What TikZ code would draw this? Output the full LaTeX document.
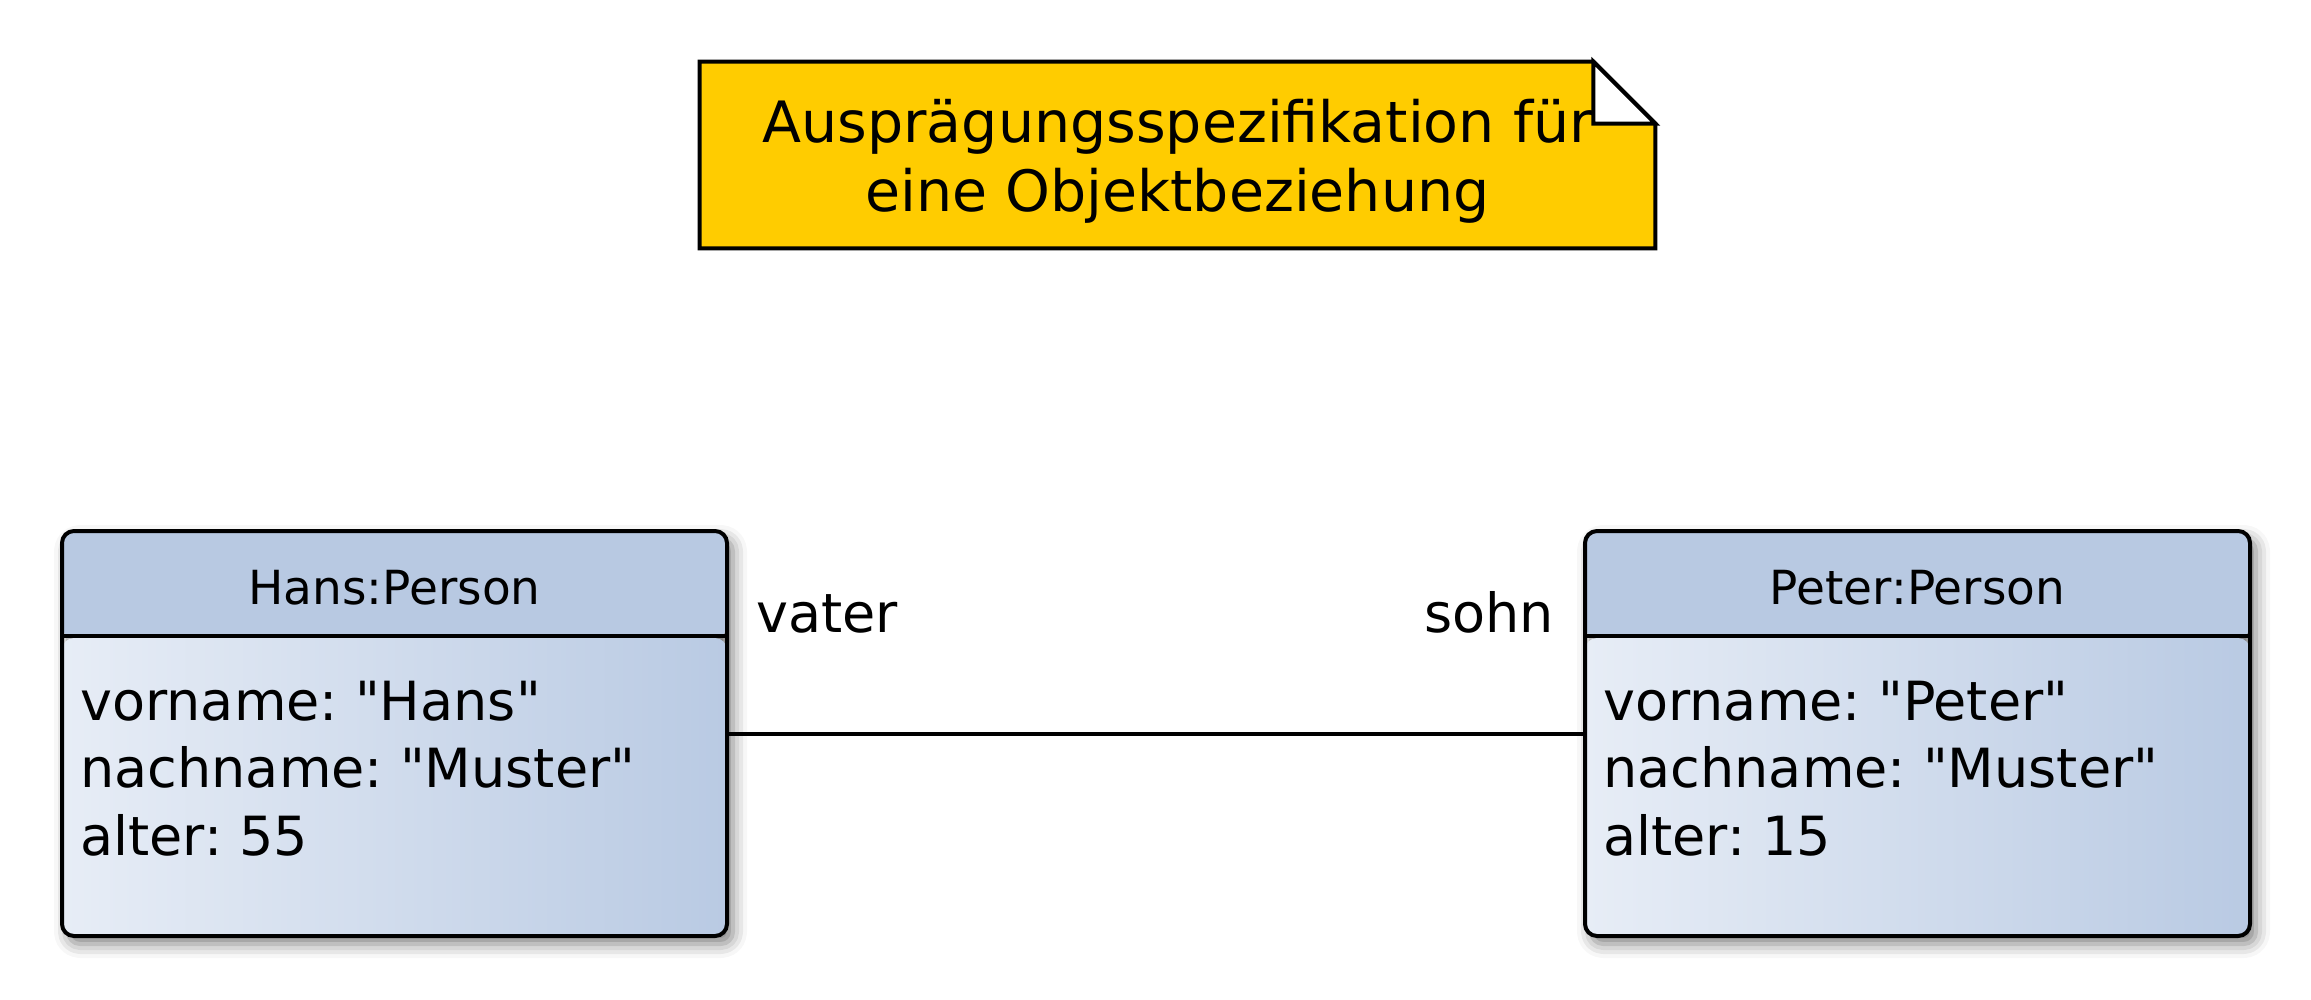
\documentclass[tikz,border=0pt]{standalone}
\usepackage{fontspec}
\newfontfamily\uifont{DejaVu Sans}
\usetikzlibrary{shadows.blur}
\definecolor{hdr}{HTML}{B8C9E2}
\definecolor{bodyL}{HTML}{E7EDF6}
\definecolor{bodyR}{HTML}{B9CAE3}
\definecolor{noteY}{HTML}{FFCC00}
\tikzset{
  objbox/.style={draw=black, line width=2pt, rounded corners=6pt, inner sep=0pt,
    minimum width=332.5pt, minimum height=202.5pt,
    blur shadow={shadow xshift=3pt, shadow yshift=-4pt, shadow blur radius=7pt, shadow opacity=50},
    path picture={
      \fill[hdr] (path picture bounding box.north west) rectangle ([yshift=-53.5pt]path picture bounding box.north east);
      \shade[left color=bodyL, right color=bodyR] ([yshift=-53.5pt]path picture bounding box.north west) rectangle (path picture bounding box.south east);
    }},
  hdrtxt/.style={anchor=base, inner sep=0pt, font=\uifont\frenchspacing\fontsize{23.5}{28}\selectfont},
  attrtxt/.style={anchor=base west, inner sep=0pt, font=\uifont\frenchspacing\fontsize{27}{32}\selectfont},
  roletxt/.style={inner sep=0pt, font=\uifont\frenchspacing\fontsize{27}{32}\selectfont},
  notetxt/.style={anchor=base, inner sep=0pt, font=\uifont\frenchspacing\fontsize{28.5}{34}\selectfont},
  link/.style={draw=black, line width=2pt},
  noteline/.style={draw=black, line width=2pt, line join=miter},
}
\begin{document}
\begin{tikzpicture}[x=0.5pt,y=-0.5pt]
\useasboundingbox (0,0) rectangle (2311,1000);

% note
\node[inner sep=0pt, minimum width=477.5pt, minimum height=93pt] (note) at (1177.5,155) {};
\filldraw[noteline, fill=noteY]
  (note.north west) -- ([xshift=-31pt]note.north east) -- ([yshift=-31pt]note.north east)
  -- (note.south east) -- (note.south west) -- cycle;
\filldraw[noteline, fill=white]
  ([xshift=-31pt]note.north east) -- ([xshift=-31pt,yshift=-31pt]note.north east)
  -- ([yshift=-31pt]note.north east) -- cycle;
\node[notetxt] (n1) at (1177.5,143) {Ausprägungsspezifikation für};
\node[notetxt] (n2) at (1177.5,212) {eine Objektbeziehung};

% objects
\node[objbox] (hans) at (394.5,733.5) {};
\draw[line width=2pt] ([yshift=-53.5pt]hans.north west) -- ([yshift=-53.5pt]hans.north east);
\node[hdrtxt] (hansT) at (394.5,604) {Hans:Person};
\node[attrtxt] (hansA1) at (80,720) {vorname: "Hans"};
\node[attrtxt] (hansA2) at (80,787) {nachname: "Muster"};
\node[attrtxt] (hansA3) at (80,855) {alter: 55};

\node[objbox] (peter) at (1917.5,733.5) {};
\draw[line width=2pt] ([yshift=-53.5pt]peter.north west) -- ([yshift=-53.5pt]peter.north east);
\node[hdrtxt] (peterT) at (1917.5,604) {Peter:Person};
\node[attrtxt] (peterA1) at (1603,720) {vorname: "Peter"};
\node[attrtxt] (peterA2) at (1603,787) {nachname: "Muster"};
\node[attrtxt] (peterA3) at (1603,855) {alter: 15};

% link
\draw[link] (hans.east) -- (peter.west);
\node[roletxt, anchor=base west] (vater) at (756,632) {vater};
\node[roletxt, anchor=base east] (sohn) at (1554,632) {sohn};
\end{tikzpicture}
\end{document}
